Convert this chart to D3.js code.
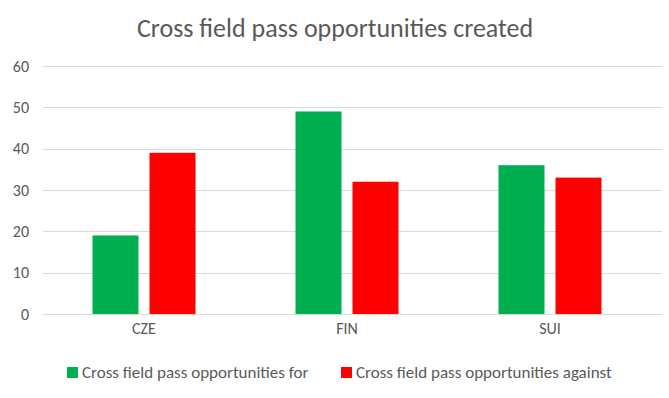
<!DOCTYPE html>
<html>
<head>
<meta charset="utf-8">
<script src="https://cdn.jsdelivr.net/npm/d3@7"></script>
<style>
  body { margin: 0; background: #fff; }
  text { font-family: Carlito, "Open Sans", "Liberation Sans", sans-serif; fill: #595959; }
</style>
</head>
<body>
<svg id="chart" width="669" height="398"></svg>
<script>
const categories = ["CZE", "FIN", "SUI"];
const seriesNames = ["Cross field pass opportunities for", "Cross field pass opportunities against"];
const forValues = [19, 49, 36];
const againstValues = [39, 32, 33];
const yTicks = [0, 10, 20, 30, 40, 50, 60];
const colors = ["#00b050", "#ff0000"];

const width = 669, height = 398;
const svg = d3.select("#chart");

const rows = categories.map((c, i) => ({ cat: c, values: [forValues[i], againstValues[i]] }));

const x0 = d3.scaleBand().domain(categories).range([42.5, 651.5]).padding(0);
const x1 = d3.scaleBand().domain([0, 1]).range([0, x0.bandwidth()])
    .paddingInner(0.193).paddingOuter(0.877);
const y = d3.scaleLinear().domain([0, 60]).range([314, 66]);

// title
svg.append("text")
    .attr("x", 335).attr("y", 37)
    .attr("text-anchor", "middle")
    .style("font-size", "26px")
    .text("Cross field pass opportunities created");

// gridlines
svg.append("g").selectAll("line")
    .data(yTicks)
    .enter().append("line")
    .attr("x1", 43).attr("x2", 662)
    .attr("y1", d => Math.round(y(d)) + 0.5).attr("y2", d => Math.round(y(d)) + 0.5)
    .attr("stroke", "#d9d9d9").attr("stroke-width", 1);

// y axis labels
const yAxis = svg.append("g").attr("transform", "translate(29,0)")
    .call(d3.axisLeft(y).tickValues(yTicks).tickSize(0).tickPadding(0));
yAxis.select(".domain").remove();
yAxis.selectAll("text").style("font-size", "16px").attr("fill", "#595959");

// x axis labels
const xAxis = svg.append("g").attr("transform", "translate(0,323)")
    .call(d3.axisBottom(x0).tickSize(0).tickPadding(0));
xAxis.select(".domain").remove();
xAxis.selectAll("text").style("font-size", "16px").attr("fill", "#595959").attr("dy", "0.71em");

// bars
svg.append("g").selectAll("g")
    .data(rows)
    .enter().append("g")
    .attr("transform", d => `translate(${x0(d.cat)},0)`)
    .selectAll("rect")
    .data(d => d.values.map((v, i) => ({ v, i })))
    .enter().append("rect")
    .attr("x", d => x1(d.i))
    .attr("y", d => y(d.v))
    .attr("width", x1.bandwidth())
    .attr("height", d => y(0) - y(d.v))
    .attr("fill", d => colors[d.i]);

// legend
const legendX = [67, 341];
const legend = svg.append("g").selectAll("g")
    .data(seriesNames)
    .enter().append("g")
    .attr("transform", (d, i) => `translate(${legendX[i]},367)`);
legend.append("rect")
    .attr("width", 11).attr("height", 11)
    .attr("fill", (d, i) => colors[i]);
legend.append("text")
    .attr("x", 15).attr("y", 11)
    .style("font-size", "17px")
    .text(d => d);
</script>
</body>
</html>
